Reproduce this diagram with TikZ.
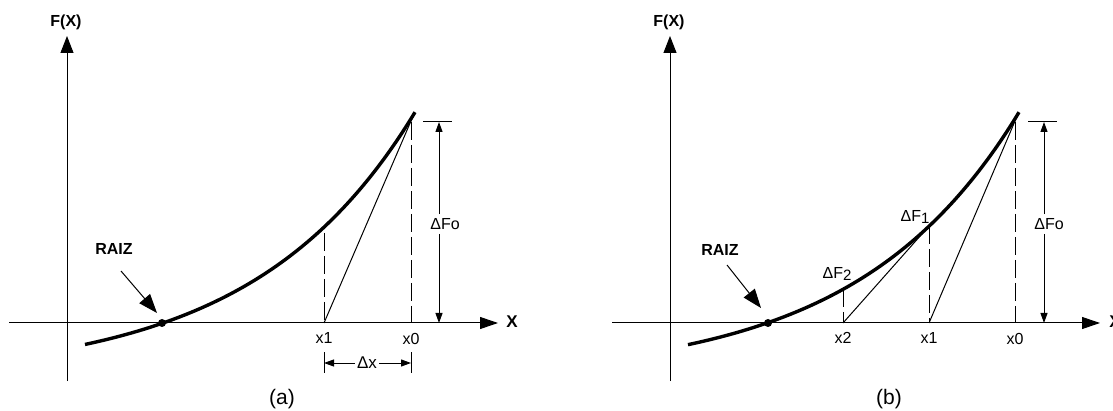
\documentclass[tikz,border=0pt]{standalone}
\usepackage{fontspec}
\setmainfont{Liberation Sans}
\usetikzlibrary{arrows.meta}
\begin{document}
\begin{tikzpicture}[x=1pt,y=-1pt,
  xaxis/.style={line width=1pt,-{Triangle[length=18pt,width=12pt]}},
  yaxis/.style={line width=1pt,-{Triangle[length=17pt,width=13pt]}},
  chord/.style={line width=1pt},
  fcurve/.style={line width=3.4pt},
  dashln/.style={line width=1pt,dash pattern=on 18pt off 5pt},
  dimarrow/.style={line width=1pt,-{Triangle[length=10pt,width=7pt]}},
  pointer/.style={line width=1pt,-{Triangle[length=19pt,width=14pt]}},
  lab/.style={font=\fontsize{16}{16}\selectfont,inner sep=0pt},
  dlab/.style={font=\fontsize{16}{16}\selectfont,inner sep=0pt},
  blab/.style={font=\bfseries\fontsize{16}{16}\selectfont,inner sep=0pt},
  captxt/.style={font=\fontsize{21}{21}\selectfont,inner sep=0pt}]
\useasboundingbox (0,0) rectangle (1113,411);
\newcommand{\sub}[1]{\raisebox{-2pt}{\fontsize{15}{15}\selectfont #1}}
% ================= panel (a) =================
\coordinate (a-ybot) at (67,381);
\coordinate (a-ytop) at (67,36);
\coordinate (a-xl) at (9,323);
\coordinate (a-xr) at (498,323);
\draw[yaxis] (a-ybot) -- (a-ytop);
\draw[xaxis] (a-xl) -- (a-xr);
\node[blab] (a-FX) at (66,22) {F(X)};
\node[blab,font=\bfseries\fontsize{17}{17}\selectfont] (a-X) at (512,322) {X};
\draw[fcurve] plot[domain=85:415,samples=80,smooth] (\x,{323-56*(exp(0.0062*(\x-163))-1)});
\coordinate (a-root) at (162,323);
\fill (a-root) circle (4pt);
\node[blab] (a-raiz) at (114,249) {RAIZ};
\coordinate (a-rs) at (121,271);
\coordinate (a-rt) at (157,313);
\draw[pointer] (a-rs) -- (a-rt);
\coordinate (a-x1) at (324,323);
\coordinate (a-x0) at (411,323);
\coordinate (a-top) at (414,114);
\coordinate (a-x1d) at (324,233);
\coordinate (a-x0d) at (411,122);
\draw[chord] (a-top) -- (a-x1);
\draw[dashln] (a-x1d) -- (a-x1);
\draw[dashln] (a-x0d) -- (a-x0);
\node[lab] (a-lx1) at (324,338) {x1};
\node[lab] (a-lx0) at (411,339) {x0};
% Delta Fo
\coordinate (a-tl) at (423,122);
\coordinate (a-tr) at (452,122);
\draw[chord] (a-tl) -- (a-tr);
\coordinate (a-dftop) at (439,122);
\coordinate (a-dfbot) at (439,323);
\node[dlab,inner sep=4pt] (a-dF) at (445,224) {ΔFo};
\draw[dimarrow] (a-dF.north -| a-dftop) -- (a-dftop);
\draw[dimarrow] (a-dF.south -| a-dfbot) -- (a-dfbot);
% Delta x
\coordinate (a-e1t) at (324,352);
\coordinate (a-e1b) at (324,373);
\coordinate (a-e0t) at (411,352);
\coordinate (a-e0b) at (411,373);
\draw[chord] (a-e1t) -- (a-e1b);
\draw[chord] (a-e0t) -- (a-e0b);
\coordinate (a-d1) at (324,363);
\coordinate (a-d0) at (411,363);
\node[dlab,font=\fontsize{17}{17}\selectfont,inner sep=2pt] (a-dx) at (367,363) {Δx};
\draw[dimarrow] (a-dx.west) -- (a-d1);
\draw[dimarrow] (a-dx.east) -- (a-d0);
\node[captxt] (a-cap) at (282,399) {(a)};
% ================= panel (b) =================
\coordinate (b-ybot) at (670,381);
\coordinate (b-ytop) at (670,36);
\coordinate (b-xl) at (612,323);
\coordinate (b-xr) at (1100,323);
\draw[yaxis] (b-ybot) -- (b-ytop);
\draw[xaxis] (b-xl) -- (b-xr);
\node[blab] (b-FX) at (669,22) {F(X)};
\node[blab,font=\bfseries\fontsize{17}{17}\selectfont] (b-X) at (1115,322) {X};
\draw[fcurve] plot[domain=688:1019,samples=80,smooth] (\x,{323-56*(exp(0.0062*(\x-767))-1)});
\coordinate (b-root) at (768,323);
\fill (b-root) circle (4pt);
\node[blab] (b-raiz) at (720,250) {RAIZ};
\coordinate (b-rs) at (727,265);
\coordinate (b-rt) at (761,308);
\draw[pointer] (b-rs) -- (b-rt);
\coordinate (b-x2) at (843,323);
\coordinate (b-x1) at (929,323);
\coordinate (b-x0) at (1015,323);
\coordinate (b-top) at (1018,114);
\coordinate (b-c1) at (929,226);
\coordinate (b-c2) at (843,289);
\coordinate (b-x0d) at (1015,122);
\draw[chord] (b-top) -- (b-x1);
\draw[chord] (b-c1) -- (b-x2);
\draw[dashln] (b-c1) -- (b-x1);
\draw[dashln] (b-c2) -- (b-x2);
\draw[dashln] (b-x0d) -- (b-x0);
\node[lab] (b-lx2) at (843,338) {x2};
\node[lab] (b-lx1) at (929,338) {x1};
\node[lab] (b-lx0) at (1015,339) {x0};
\node[dlab] (b-dF1) at (915,217) {ΔF\sub{1}};
\node[dlab] (b-dF2) at (837,274) {ΔF\sub{2}};
\coordinate (b-tl) at (1028,122);
\coordinate (b-tr) at (1057,122);
\draw[chord] (b-tl) -- (b-tr);
\coordinate (b-dftop) at (1044,122);
\coordinate (b-dfbot) at (1044,323);
\node[dlab,inner sep=4pt] (b-dF) at (1049,224) {ΔFo};
\draw[dimarrow] (b-dF.north -| b-dftop) -- (b-dftop);
\draw[dimarrow] (b-dF.south -| b-dfbot) -- (b-dfbot);
\node[captxt] (b-cap) at (889,399) {(b)};
\end{tikzpicture}
\end{document}
